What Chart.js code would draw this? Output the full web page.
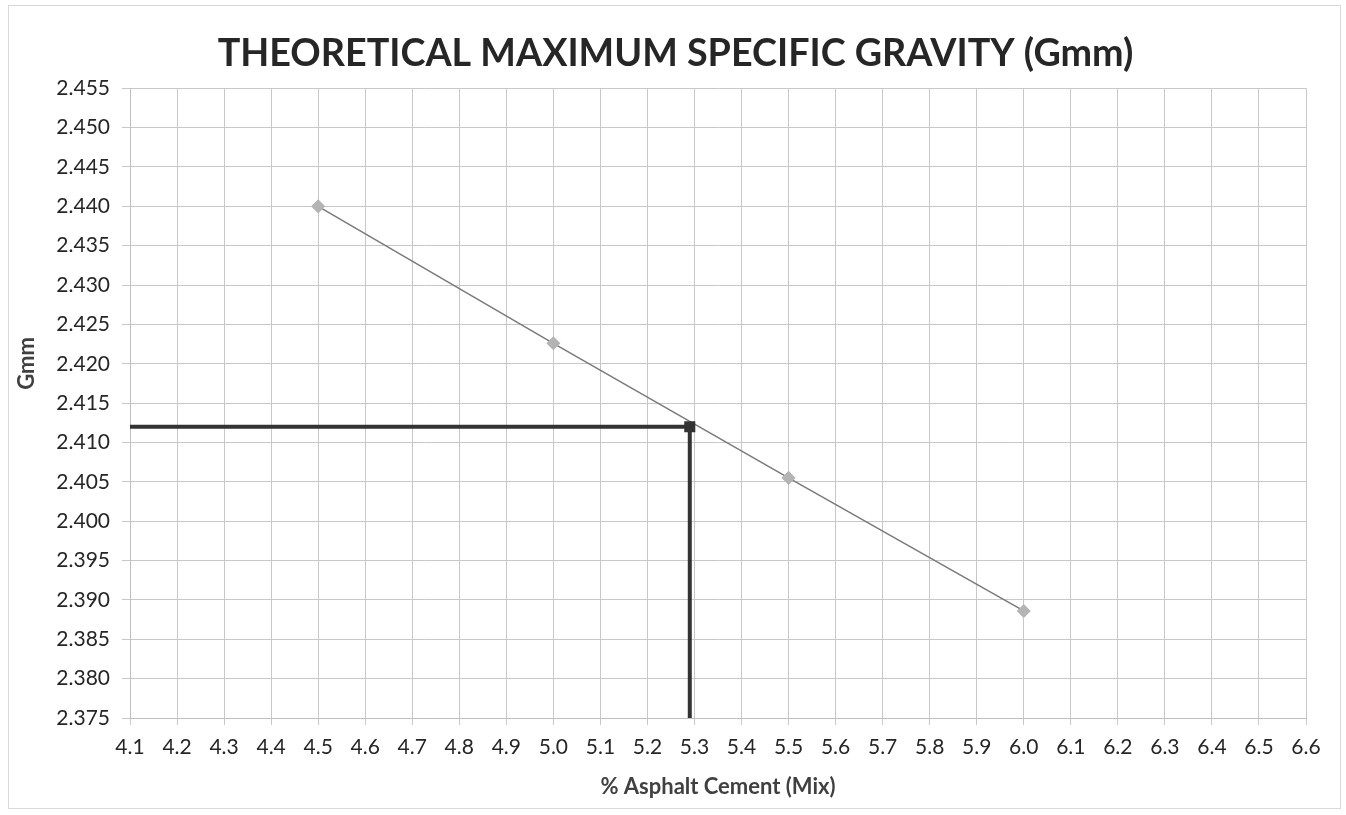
<!DOCTYPE html>
<html>
<head>
<meta charset="utf-8">
<script src="https://cdn.jsdelivr.net/npm/chart.js@4"></script>
<style>
  html, body { margin: 0; padding: 0; background: #fff; }
  #frame { position: absolute; left: 8px; top: 5px; width: 1331px; height: 802px; border: 1px solid #d9d9d9; }
  #wrap { position: absolute; left: 0; top: 0; width: 1346px; height: 815px; }
</style>
</head>
<body>
<div id="frame"></div>
<div id="wrap"><canvas id="gmmChart" width="1346" height="815"></canvas></div>
<script>
// measured points
const acContent = [4.5, 5.0, 5.5, 6.0];
const gmmValues = [2.440, 2.4226, 2.4055, 2.3886];

// optimum asphalt content read-off
const optimumAC = 5.29;
const optimumGmm = 2.412;

const xRange = [4.1, 6.6];
const yRange = [2.375, 2.455];

const chartTitle = 'THEORETICAL MAXIMUM SPECIFIC GRAVITY (Gmm)';
const xTitle = '% Asphalt Cement (Mix)';
const yTitle = 'Gmm';

const fontFamily = 'Lato, "Open Sans", sans-serif';
const textColor = '#262626';
const gridColor = '#c8c8c8';

// y axis title sits a bit above the middle of the plot in the original
const yTitlePlugin = {
  id: 'yTitle',
  afterDraw(chart) {
    const { ctx, chartArea } = chart;
    ctx.save();
    ctx.translate(27, chartArea.top + (chartArea.bottom - chartArea.top) * 0.437);
    ctx.rotate(-Math.PI / 2);
    ctx.font = 'bold 22px ' + fontFamily;
    ctx.fillStyle = '#404040';
    ctx.textAlign = 'center';
    ctx.textBaseline = 'middle';
    ctx.fillText(yTitle, 0, 0);
    ctx.restore();
  }
};

document.addEventListener("DOMContentLoaded", () => {
  const measured = acContent.map((x, i) => ({ x: x, y: gmmValues[i] }));
  const optimumPath = [
    { x: xRange[0], y: optimumGmm },
    { x: optimumAC, y: optimumGmm },
    { x: optimumAC, y: yRange[0] }
  ];

  const canvas = document.getElementById('gmmChart');
  new Chart(canvas.getContext('2d'), {
    type: 'scatter',
    data: {
      datasets: [
        {
          label: 'Gmm',
          data: measured,
          showLine: true,
          borderColor: '#7a7a7a',
          borderWidth: 1.5,
          pointStyle: 'rectRot',
          pointRadius: 6,
          pointBackgroundColor: '#b4b4b4',
          pointBorderColor: '#b4b4b4',
          order: 2
        },
        {
          label: 'Optimum',
          data: optimumPath,
          showLine: true,
          borderColor: '#333333',
          borderWidth: 4,
          pointStyle: 'rect',
          pointRadius: [0, 5, 0],
          pointBackgroundColor: '#333333',
          pointBorderColor: '#333333',
          order: 1
        }
      ]
    },
    options: {
      responsive: false,
      animation: false,
      layout: { padding: { left: 45, right: 40, top: 0, bottom: 0 } },
      plugins: {
        legend: { display: false },
        tooltip: { enabled: false },
        title: {
          display: true,
          text: chartTitle,
          color: textColor,
          font: { family: fontFamily, size: 37.7, weight: 'bold' },
          padding: { top: 31, bottom: 12 }
        }
      },
      scales: {
        x: {
          type: 'linear',
          min: xRange[0],
          max: xRange[1],
          ticks: {
            stepSize: 0.1,
            color: textColor,
            font: { family: fontFamily, size: 21 },
            padding: 10,
            maxRotation: 0,
            autoSkip: false,
            callback: v => Number(v).toFixed(1)
          },
          grid: { color: gridColor, tickLength: 7 },
          border: { color: '#bfbfbf' },
          title: {
            display: true,
            text: xTitle,
            color: '#404040',
            font: { family: fontFamily, size: 22, weight: 'bold' },
            padding: { top: 0, bottom: 15 }
          },
          afterFit: scale => { scale.height = 97; }
        },
        y: {
          type: 'linear',
          min: yRange[0],
          max: yRange[1],
          ticks: {
            stepSize: 0.005,
            color: textColor,
            font: { family: fontFamily, size: 21 },
            padding: 12,
            autoSkip: false,
            callback: v => Number(v).toFixed(3)
          },
          grid: { color: gridColor, tickLength: 8 },
          border: { color: '#bfbfbf' },
          afterFit: scale => { scale.width = 85; }
        }
      }
    },
    plugins: [yTitlePlugin]
  });
});
</script>
</body>
</html>
